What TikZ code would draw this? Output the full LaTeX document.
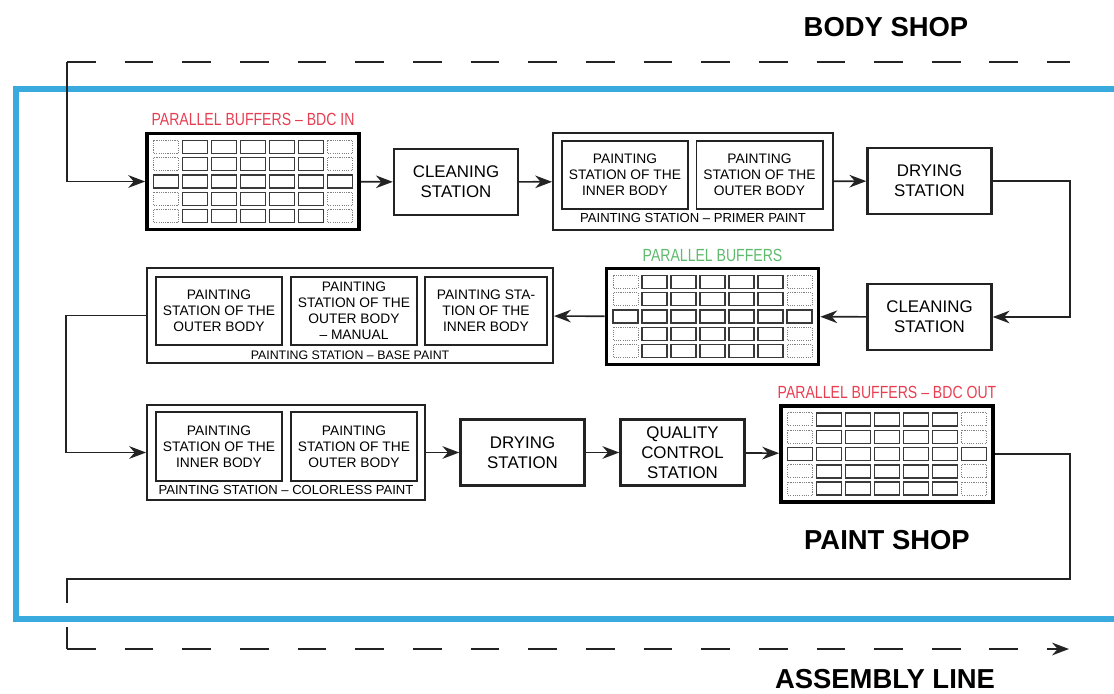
\documentclass[tikz,border=0pt]{standalone}
\usepackage{fontspec}
\setmainfont{Liberation Sans}
\newfontfamily\narrowfont[FakeStretch=0.8, Ligatures=TeX]{Liberation Sans}
\usepackage{tikz}
\usetikzlibrary{shapes,arrows.meta,positioning,calc,fit}

\definecolor{shopblue}{RGB}{56,170,222}
\definecolor{bufred}{RGB}{232,62,82}
\definecolor{bufgreen}{RGB}{96,186,110}
\definecolor{ink}{RGB}{35,35,35}

% cells of a parallel buffer, drawn round the node centre
\newcommand{\buffercells}[1]{%
  \begin{scope}[shift={(#1.center)}]
    \foreach \col in {-2,...,2}
      \foreach \row in {-2,...,2}
        \draw[cell] (\col*29-12.5,\row*17.3-6.5) rectangle ++(25,13);
    \foreach \col in {-3,3} {
      \draw[cell] (\col*29-12.5,-6.5) rectangle ++(25,13);
      \foreach \row in {-2,-1,1,2}
        \draw[spare] (\col*29-12.5,\row*17.3-6.5) rectangle ++(25,13);
    }
  \end{scope}}

\begin{document}
\begin{tikzpicture}[x=0.025cm, y=-0.025cm,
  station/.style={draw=ink, rectangle, line width=1.7pt, align=center,
    minimum width=3.1cm, minimum height=1.65cm,
    font=\fontsize{12}{14.2}\selectfont},
  part/.style={draw=ink, rectangle, line width=1.4pt, align=center,
    minimum width=3.15cm, minimum height=1.72cm,
    font=\fontsize{9.8}{11.4}\selectfont},
  group/.style={draw=ink, rectangle, line width=1.3pt},
  caption/.style={font=\fontsize{9.3}{11}\selectfont, inner sep=0pt},
  buffer/.style={draw=black, rectangle, line width=2.6pt,
    minimum width=5.3cm, minimum height=2.4cm},
  buflabel/.style={font=\narrowfont\fontsize{12.5}{14}\selectfont, inner sep=0pt},
  cell/.style={draw=ink!90, line width=1pt},
  spare/.style={draw=gray, line width=0.7pt, dash pattern=on 0.8pt off 0.8pt},
  flow/.style={draw=ink, line width=1.2pt, -{Stealth[length=12pt, width=9pt]}},
  link/.style={draw=ink, line width=1.2pt},
  shopline/.style={draw=ink, line width=1.6pt, dash pattern=on 20.5pt off 20.5pt},
  shop/.style={font=\bfseries\fontsize{19.5}{23}\selectfont, inner sep=0pt}]
\clip (0,0) rectangle (1114,693);

% paint shop frame
\draw[shopblue, line width=4.3pt] (16,89) rectangle (1140,619);

% titles
\node[shop] (bodyshop) at (886,27) {BODY SHOP};
\node[shop] (paintshop) at (887,540) {PAINT SHOP};
\node[shop] (assembly) at (885,679) {ASSEMBLY LINE};

% row 1
\node[buffer] (bin) at (253,181.5) {};
\buffercells{bin}
\node[buflabel, text=bufred] (binlabel) at (253,119) {PARALLEL BUFFERS – BDC IN};

\node[station] (clean1) at (456,182) {CLEANING\\STATION};

\node[group, minimum width=7cm, minimum height=2.425cm] (primer) at (693,181.5) {};
\node[part] (primerin) at (625,175) {PAINTING\\STATION OF THE\\INNER BODY};
\node[part] (primerout) at (759.5,175) {PAINTING\\STATION OF THE\\OUTER BODY};
\node[caption] (primercap) at (693,218) {PAINTING STATION – PRIMER PAINT};

\node[station] (dry1) at (929.5,181) {DRYING\\STATION};

% row 2
\node[station] (clean2) at (929.5,317) {CLEANING\\STATION};

\node[buffer] (bmid) at (712.5,316.5) {};
\buffercells{bmid}
\node[buflabel, text=bufgreen] (bmidlabel) at (712.5,255) {PARALLEL BUFFERS};

\node[group, minimum width=10.15cm, minimum height=2.375cm] (base) at (350,315.5) {};
\node[part] (baseout) at (219,311) {PAINTING\\STATION OF THE\\OUTER BODY};
\node[part] (basemanual) at (354,311) {PAINTING\\STATION OF THE\\OUTER BODY\\– MANUAL};
\node[part, minimum width=3.05cm] (basein) at (486,311) {PAINTING STA-\\TION OF THE\\INNER BODY};
\node[caption, font=\fontsize{8.8}{10}\selectfont] (basecap) at (350,355) {PAINTING STATION – BASE PAINT};

% row 3
\node[group, minimum width=6.95cm, minimum height=2.375cm] (clear) at (286,452.5) {};
\node[part] (clearin) at (219,446.5) {PAINTING\\STATION OF THE\\INNER BODY};
\node[part] (clearout) at (354,446.5) {PAINTING\\STATION OF THE\\OUTER BODY};
\node[caption] (clearcap) at (286,490) {PAINTING STATION – COLORLESS PAINT};

\node[station] (dry2) at (522.5,452.5) {DRYING\\STATION};
\node[station] (quality) at (682.5,452.5) {QUALITY\\CONTROL\\STATION};

\node[buffer] (bout) at (887,454) {};
\buffercells{bout}
\node[buflabel, text=bufred] (boutlabel) at (887,392) {PARALLEL BUFFERS – BDC OUT};

% line ends
\coordinate (bscorner) at (67,62);
\coordinate (bsend) at (1070,62);
\coordinate (retcorner) at (67,579);
\coordinate (gaptop) at (67,603);
\coordinate (gapbot) at (67,627);
\coordinate (asmcorner) at (67,649);
\coordinate (asmend) at (1069,649);

% flow
\draw[shopline] (bscorner) -- (bsend);
\draw[flow] (bscorner) |- (bin.west);
\draw[flow] (bin) -- (clean1);
\draw[flow] (clean1) -- (primer);
\draw[flow] (primer) -- (dry1);
\draw[flow] (dry1.east) -- ++(77,0) |- (clean2.east);
\draw[flow] (clean2) -- (bmid);
\draw[flow] (bmid) -- (base);
\draw[flow] (base.west) -- ++(-80,0) |- (clear.west);
\draw[flow] (clear) -- (dry2);
\draw[flow] (dry2) -- (quality);
\draw[flow] (quality) -- (bout);
\draw[link] (bout.east) -- ++(75,0) |- (retcorner) -- (gaptop);
\draw[link] (gapbot) -- (asmcorner);
\draw[shopline, -{Stealth[length=12pt, width=9pt]}] (asmcorner) -- (asmend);
\end{tikzpicture}
\end{document}
